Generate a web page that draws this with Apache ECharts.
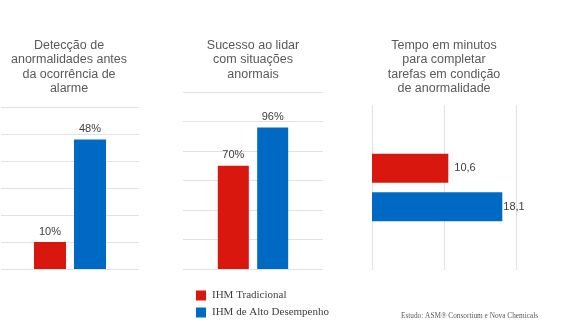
<!DOCTYPE html>
<html>
<head>
<meta charset="utf-8">
<script src="https://cdn.jsdelivr.net/npm/echarts@6/dist/echarts.min.js"></script>
<style>
html,body{margin:0;padding:0;background:#fff;}
#chart{width:567px;height:330px;}
</style>
</head>
<body>
<div id="chart"></div>
<script>
const seriesNames = ['IHM Tradicional', 'IHM de Alto Desempenho'];
const panelTitles = [
  'Detecção de\nanormalidades antes\nda ocorrência de\nalarme',
  'Sucesso ao lidar\ncom situações\nanormais',
  'Tempo em minutos\npara completar\ntarefas em condição\nde anormalidade'
];
const tradicional = [10, 70, 10.6];
const altoDesempenho = [48, 96, 18.1];
const valueMax = [60, 120, 20];
const valueInterval = [10, 20, 10];
const footnote = 'Estudo: ASM® Consortium e Nova Chemicals';

const RED = '#D9170E';
const BLUE = '#0069C4';
const GRID = '#e2e2e2';
const sans = 'Liberation Sans';

const chart = echarts.init(document.getElementById('chart'));

const titleCenters = [69, 253, 444];
const titleTops = [38, 38, 38];

const pctLabel = (dist) => ({
  show: true, position: 'top', distance: dist,
  formatter: (p) => p.value + '%',
  color: '#404040', fontFamily: sans, fontSize: 11
});
const decLabel = (dist) => ({
  show: true, position: 'right', distance: dist,
  formatter: (p) => String(p.value).replace('.', ','),
  color: '#404040', fontFamily: sans, fontSize: 11
});

const option = {
  backgroundColor: '#ffffff',
  animation: false,
  title: panelTitles.map((t, i) => ({
    text: t,
    left: titleCenters[i],
    top: titleTops[i],
    textAlign: 'center',
    padding: 0,
    textStyle: {
      fontFamily: sans, fontSize: 12.5, fontWeight: 'normal',
      color: '#595959', lineHeight: 14.5
    }
  })),
  legend: {
    data: seriesNames,
    orient: 'vertical',
    left: 196, top: 290,
    padding: 0,
    itemWidth: 10, itemHeight: 10, itemGap: 6,
    icon: 'rect',
    textStyle: { fontFamily: 'Liberation Serif', fontSize: 11, color: '#404040', padding: [0, 0, 0, 1] }
  },
  graphic: [{
    type: 'text', left: 401, top: 312.5,
    style: { text: footnote, font: '7.3px "Liberation Serif"', fill: '#595959' }
  }],
  grid: [
    { left: 1, top: 107, width: 138, height: 162 },
    { left: 183, top: 92, width: 140, height: 177 },
    { left: 372, top: 105, width: 144, height: 165 }
  ],
  xAxis: [
    { gridIndex: 0, type: 'category', data: [''], axisLine: {show: false}, axisTick: {show: false}, axisLabel: {show: false} },
    { gridIndex: 1, type: 'category', data: [''], axisLine: {show: false}, axisTick: {show: false}, axisLabel: {show: false} },
    { gridIndex: 2, type: 'value', min: 0, max: valueMax[2], interval: valueInterval[2],
      axisLine: {show: false}, axisTick: {show: false}, axisLabel: {show: false},
      splitLine: { lineStyle: { color: GRID, width: 1 } } }
  ],
  yAxis: [
    { gridIndex: 0, type: 'value', min: 0, max: valueMax[0], interval: valueInterval[0],
      axisLine: {show: false}, axisTick: {show: false}, axisLabel: {show: false},
      splitLine: { lineStyle: { color: GRID, width: 1 } } },
    { gridIndex: 1, type: 'value', min: 0, max: valueMax[1], interval: valueInterval[1],
      axisLine: {show: false}, axisTick: {show: false}, axisLabel: {show: false},
      splitLine: { lineStyle: { color: GRID, width: 1 } } },
    { gridIndex: 2, type: 'category', data: [''], inverse: true,
      axisLine: {show: false}, axisTick: {show: false}, axisLabel: {show: false} }
  ],
  series: [
    { name: seriesNames[0], type: 'bar', xAxisIndex: 0, yAxisIndex: 0, data: [tradicional[0]],
      barWidth: 32, barGap: '25%', itemStyle: { color: RED }, label: pctLabel(5) },
    { name: seriesNames[1], type: 'bar', xAxisIndex: 0, yAxisIndex: 0, data: [altoDesempenho[0]],
      barWidth: 32, barGap: '25%', itemStyle: { color: BLUE }, label: pctLabel(5) },
    { name: seriesNames[0], type: 'bar', xAxisIndex: 1, yAxisIndex: 1, data: [tradicional[1]],
      barWidth: 31, barGap: '27%', itemStyle: { color: RED }, label: pctLabel(5) },
    { name: seriesNames[1], type: 'bar', xAxisIndex: 1, yAxisIndex: 1, data: [altoDesempenho[1]],
      barWidth: 31, barGap: '27%', itemStyle: { color: BLUE }, label: pctLabel(5) },
    { name: seriesNames[0], type: 'bar', xAxisIndex: 2, yAxisIndex: 2, data: [tradicional[2]],
      barWidth: 29, barGap: '32%', itemStyle: { color: RED }, label: decLabel(6) },
    { name: seriesNames[1], type: 'bar', xAxisIndex: 2, yAxisIndex: 2, data: [altoDesempenho[2]],
      barWidth: 29, barGap: '32%', itemStyle: { color: BLUE }, label: decLabel(1) }
  ]
};
chart.setOption(option);
</script>
</body>
</html>
